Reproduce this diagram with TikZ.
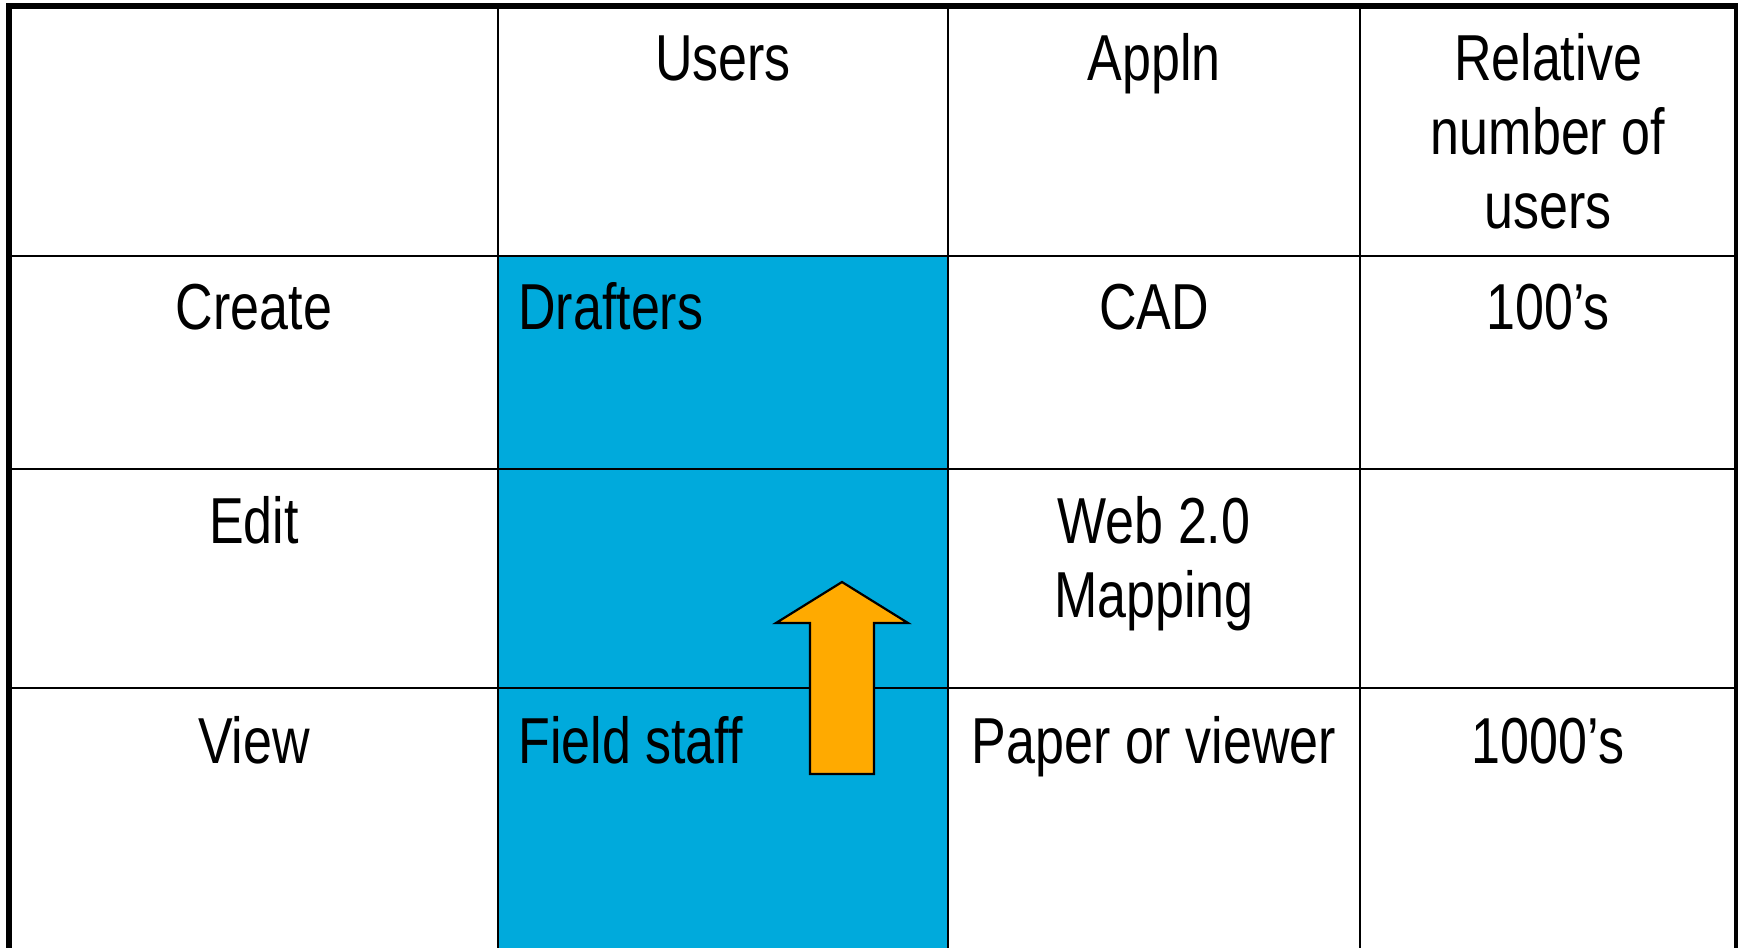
\documentclass[tikz,border=0pt]{standalone}
\usepackage{fontspec}
\setmainfont[FakeStretch=0.8]{Liberation Sans}
\usepackage{tikz}
\definecolor{cellblue}{HTML}{00AADC}
\definecolor{arroworange}{HTML}{FFAA00}

\tikzset{
	cell/.style={anchor=base,inner sep=0pt,font=\fontsize{37}{42}\selectfont},
	grid/.style={line width=1.25pt},
	frame/.style={line width=3.3pt}
}

\begin{document}
\begin{tikzpicture}[x=0.02cm,y=-0.02cm]
		\useasboundingbox (0,0) rectangle (1738,947);
		\fill[cellblue] (498,256) rectangle (948,960);
		\foreach \y in {256,469,688}
		\draw[grid] (9,\y) -- (1737,\y);
		\foreach \x in {498,948,1360}
		\draw[grid] (\x,6) -- (\x,960);
		\draw[frame] (9,960) -- (9,6) -- (1737,6) -- (1737,960);

		\draw[grid,fill=arroworange] (810,774) -- (810,623) -- (776,623) -- (842,582)
			-- (908,623) -- (874,623) -- (874,774) -- cycle;

		\node[cell] (users) at (723,80) {Users};
		\node[cell] (appln) at (1154,80) {Appln};
		\node[cell,align=center] (relnum) at (1548,228) {Relative\\number of\\users};
		\node[cell] (create) at (254,329) {Create};
		\node[cell,anchor=base west] (drafters) at (518,329) {Drafters};
		\node[cell] (cad) at (1154,329) {CAD};
		\node[cell] (hundreds) at (1548,329) {100’s};
		\node[cell] (edit) at (254,543) {Edit};
		\node[cell,align=center] (webmap) at (1154,617) {Web 2.0\\Mapping};
		\node[cell] (view) at (254,763) {View};
		\node[cell,anchor=base west] (fieldstaff) at (518,763) {Field staff};
		\node[cell] (paper) at (1154,763) {Paper or viewer};
		\node[cell] (thousands) at (1548,763) {1000’s};
	    \end{tikzpicture}
\end{document}
